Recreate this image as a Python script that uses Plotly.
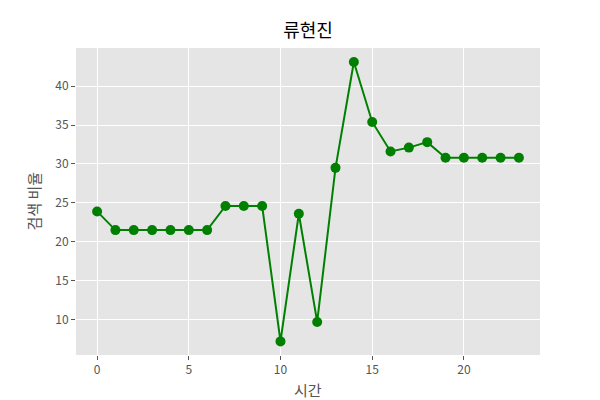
import plotly.graph_objects as go

hours = list(range(24))
ratio = [23.9, 21.5, 21.5, 21.5, 21.5, 21.5, 21.5, 24.6, 24.6, 24.6,
         7.2, 23.6, 9.7, 29.5, 43.1, 35.4, 31.6, 32.1, 32.8, 30.8,
         30.8, 30.8, 30.8, 30.8]

FONT = "Noto Sans CJK KR"

fig = go.Figure()
fig.add_trace(go.Scatter(
    x=hours, y=ratio, mode="lines+markers",
    line=dict(color="green", width=2),
    marker=dict(color="green", size=10),
    showlegend=False,
))

fig.update_layout(
    width=600, height=400,
    margin=dict(l=76, r=60, t=48, b=45, autoexpand=False),
    paper_bgcolor="white",
    plot_bgcolor="#e5e5e5",
    font=dict(family=FONT, color="#555555", size=12),
    title=dict(text="류현진", x=0.5, xref="paper", xanchor="center",
               y=1 - 31/400, yanchor="middle", automargin=False,
               font=dict(family=FONT, size=18, color="black")),
)
fig.add_annotation(text="시간", xref="paper", yref="paper", x=0.5, y=0,
                   xanchor="center", yanchor="middle", yshift=-34,
                   showarrow=False, font=dict(family=FONT, size=15, color="#555555"))
fig.add_annotation(text="검색 비율", xref="paper", yref="paper", x=0, y=0.5,
                   xanchor="center", yanchor="middle", xshift=-43, textangle=-90,
                   showarrow=False, font=dict(family=FONT, size=15, color="#555555"))

fig.update_xaxes(
    range=[-1.15, 24.15], tickvals=[0, 5, 10, 15, 20],
    showgrid=True, gridcolor="white", gridwidth=1, zeroline=False,
    ticks="outside", ticklen=4, tickcolor="#555555", automargin=False,
)
fig.update_yaxes(
    range=[5.45, 44.9], tickvals=[10, 15, 20, 25, 30, 35, 40],
    showgrid=True, gridcolor="white", gridwidth=1, zeroline=False,
    ticks="outside", ticklen=4, tickcolor="#555555", automargin=False,
)

fig.write_html("out.html", config={"displayModeBar": False},
               post_script="document.body.style.margin='0';")
